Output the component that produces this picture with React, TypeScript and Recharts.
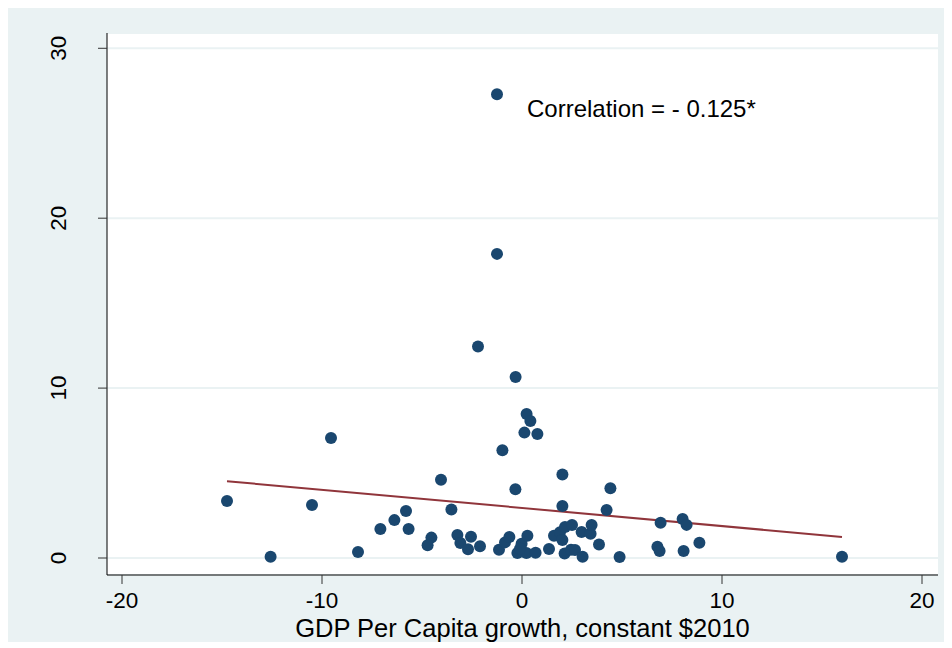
import { ScatterChart, Scatter, XAxis, YAxis, CartesianGrid, ReferenceLine, ReferenceDot } from 'recharts';

// GDP per capita growth (x) and outcome (y)
const gdpGrowth = [
  -1.25, -1.25, -2.2, -0.32, -9.55, 0.23, 0.42, 0.12, 0.77, -0.98,
  -4.05, 2.02, 4.42, -0.33, -14.75, -10.5, 2.02, 4.23, -3.53, -5.8,
  -12.57, -8.2, -7.08, -6.38, -5.67, -4.53, -4.72, 6.93, 8.03, 8.23,
  8.87, -3.23, -3.08, -2.7, -2.55, -2.1, -1.15, -0.85, -0.63, -0.23,
  -0.02, 0.22, 0.27, 0.68, 1.35, 1.6, 1.9, 2.02, 2.15, 2.5,
  2.13, 2.45, 2.65, 3.03, 2.98, 3.43, 3.48, 3.85, 4.88, 6.77,
  6.88, 8.08, 16.0, -0.1,
];
const outcome = [
  27.3, 17.9, 12.45, 10.65, 7.06, 8.47, 8.06, 7.38, 7.3, 6.34,
  4.6, 4.92, 4.1, 4.04, 3.35, 3.12, 3.06, 2.82, 2.85, 2.76,
  0.08, 0.35, 1.71, 2.23, 1.71, 1.2, 0.75, 2.08, 2.3, 1.95,
  0.9, 1.35, 0.88, 0.51, 1.25, 0.69, 0.49, 0.92, 1.24, 0.29,
  0.84, 0.29, 1.31, 0.31, 0.53, 1.31, 1.51, 1.06, 1.82, 1.94,
  0.27, 0.49, 0.47, 0.08, 1.53, 1.43, 1.94, 0.8, 0.06, 0.67,
  0.41, 0.41, 0.08, 0.55,
];

const fitX = [-14.75, 16.0];
const fitY = [4.52, 1.24];

const xTicks = [-20, -10, 0, 10, 20];
const yTicks = [0, 10, 20, 30];

const xTitle = 'GDP Per Capita growth, constant $2010';
const note = 'Correlation = - 0.125*';

const points = gdpGrowth.map((x, i) => ({ x, y: outcome[i] }));

const FONT = '"Liberation Sans", Arial, sans-serif';
const MARKER = '#1a476f';
const FIT = '#90353b';
const BG = '#eaf2f3';

const YTick = (props: any) => {
  const { x, y, payload } = props;
  const tx = x - 30;
  return (
    <text x={tx} y={y} transform={`rotate(-90, ${tx}, ${y})`} textAnchor="middle" fontSize={22.5} fontFamily={FONT} fill="#000">
      {payload.value}
    </text>
  );
};

const XTick = (props: any) => {
  const { x, y, payload } = props;
  return (
    <text x={x} y={y + 22} textAnchor="middle" fontSize={22.5} fontFamily={FONT} fill="#000">
      {payload.value}
    </text>
  );
};

export default function App() {
  return (
    <div style={{ width: 944, height: 634, backgroundColor: BG, position: 'relative' }}>
      <ScatterChart width={944} height={634} margin={{ top: 25, right: 14, bottom: 0, left: 0 }}>
        <CartesianGrid vertical={false} fill="#ffffff" stroke={BG} strokeWidth={2} />
        <XAxis
          type="number"
          dataKey="x"
          domain={[-20.75, 20.8]}
          ticks={xTicks}
          allowDataOverflow
          height={67}
          stroke="#000"
          tickSize={9}
          tickLine={{ stroke: '#333' }}
          tick={<XTick />}
          label={{ value: xTitle, position: 'insideBottom', offset: 5, fontSize: 25.5, fontFamily: FONT, fill: '#000' }}
        />
        <YAxis
          type="number"
          dataKey="y"
          domain={[-1, 30.9]}
          ticks={yTicks}
          allowDataOverflow
          width={99}
          stroke="#000"
          tickSize={9}
          tickLine={{ stroke: '#333' }}
          tick={<YTick />}
        />
        <ReferenceLine
          segment={[{ x: fitX[0], y: fitY[0] }, { x: fitX[1], y: fitY[1] }]}
          stroke={FIT}
          strokeWidth={2}
          ifOverflow="visible"
        />
        <Scatter
          data={points}
          isAnimationActive={false}
          shape={(p: any) => <circle cx={p.cx} cy={p.cy} r={6} fill={MARKER} />}
        />
        <ReferenceDot
          x={0.25}
          y={25.94}
          r={0}
          ifOverflow="visible"
          label={{
            content: (lp: any) => (
              <text x={lp.viewBox.x} y={lp.viewBox.y} fontSize={24} fontFamily={FONT} fill="#000">
                {note}
              </text>
            ),
          }}
        />
      </ScatterChart>
    </div>
  );
}
